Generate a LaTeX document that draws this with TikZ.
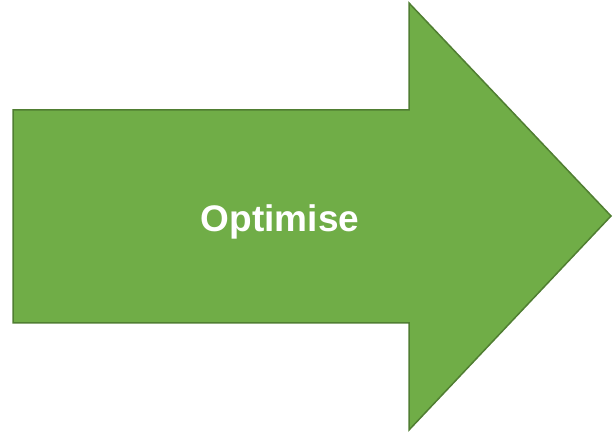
\documentclass[tikz,border=0pt]{standalone}
\usepackage{fontspec}
\setmainfont{Liberation Sans}
\definecolor{arrowgreen}{HTML}{70AD47}
\definecolor{arrowedge}{HTML}{507E32}
\begin{document}
\begin{tikzpicture}[x=1pt,y=1pt,fill=arrowgreen]
        \useasboundingbox (0,0) rectangle (613,434);
        % arrow outline
        \filldraw[draw=arrowedge,line width=1.5pt,line join=miter]
        (13,111) -- (13,324) -- (409,324) -- (409,431)
        -- (611,218) -- (409,4) -- (409,111) -- cycle;
        \node (label) [text=white,anchor=base,font=\bfseries\fontsize{37}{40}\selectfont]
        at (280,202) {Optimise};
    \end{tikzpicture}
\end{document}
